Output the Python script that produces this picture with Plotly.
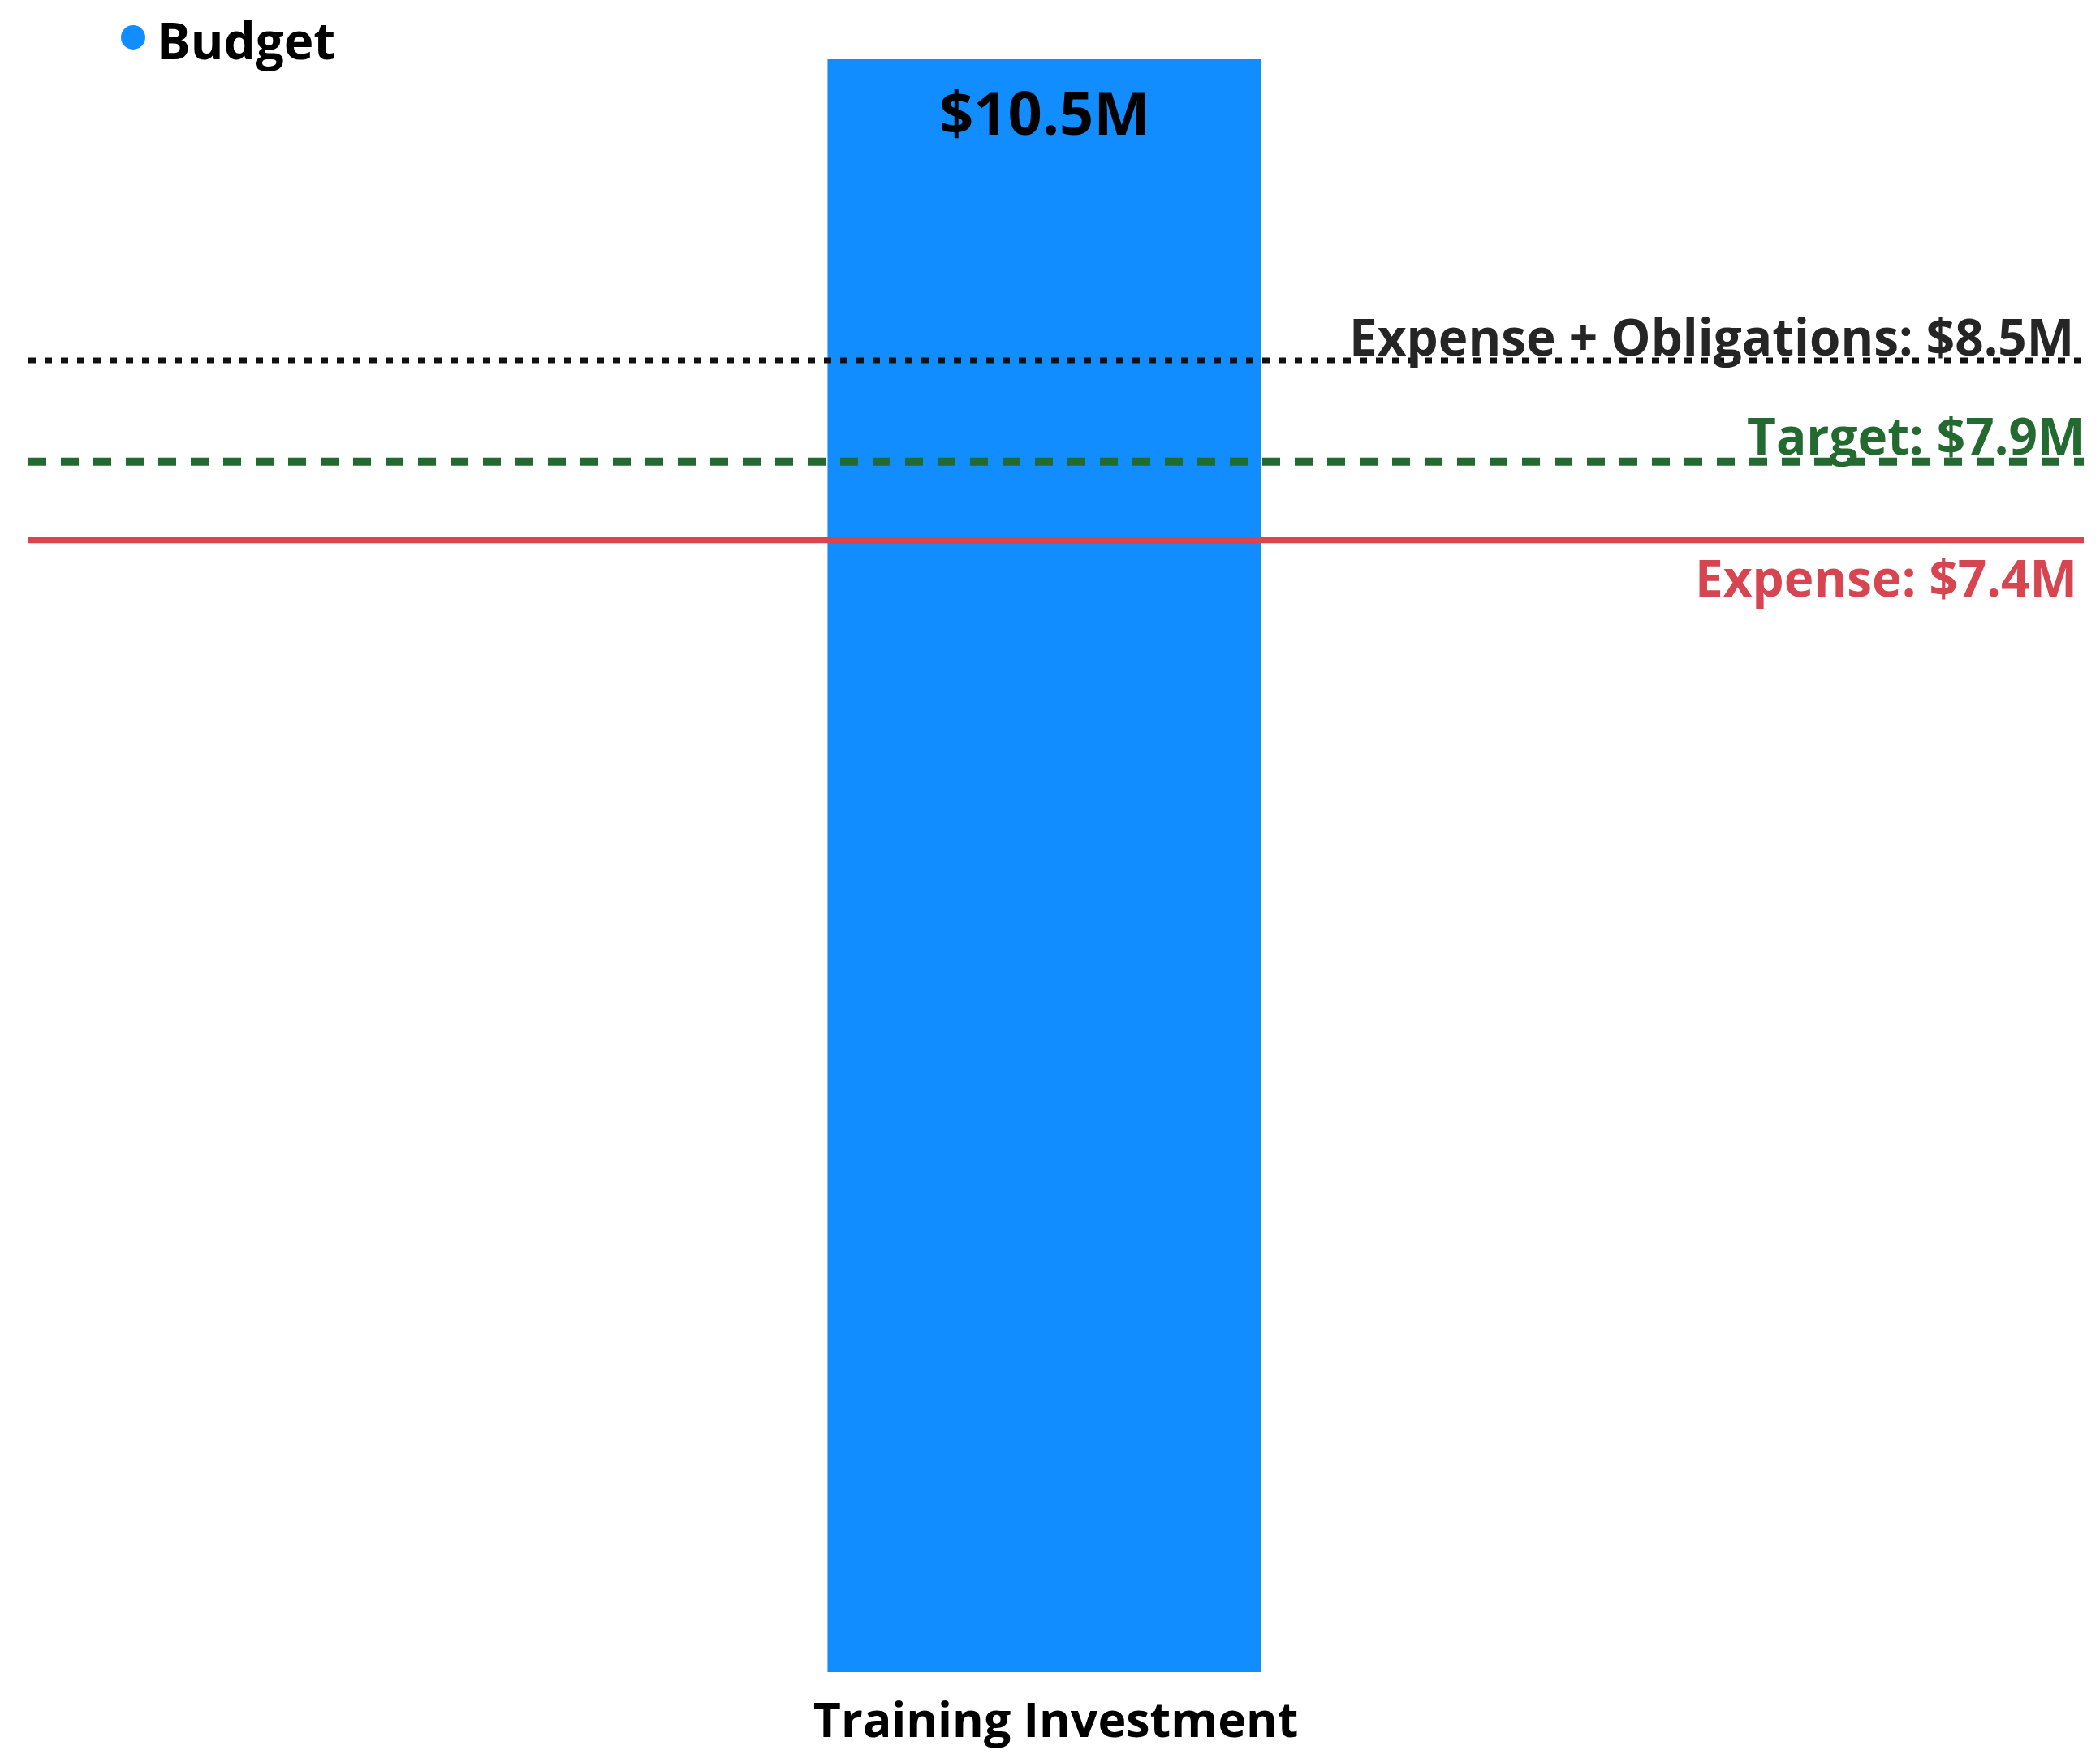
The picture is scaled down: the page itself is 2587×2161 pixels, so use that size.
import plotly.graph_objects as go

# ---- data ----
categories = ["Training Investment"]
budget_values = [10.5]
series_name = "Budget"
ref_names = ["Expense + Obligations", "Target", "Expense"]
ref_values = [8.54, 7.88, 7.37]

# ---- styles ----
FONT = "Open Sans"
BAR_COLOR = "#118DFF"
ref_colors = ["#111111", "#236A30", "#D64550"]
ref_text_colors = ["#252525", "#236A30", "#D64550"]
ref_widths = [7, 10, 8]
ref_dashes = ["9px,11px", "22px,18px", "solid"]
ref_label_yshift = [30, 33, -46]
ref_label_xshift = [-10, 3, -6]

fig = go.Figure()
fig.add_trace(go.Bar(
    x=categories, y=budget_values, name=series_name,
    marker=dict(color=BAR_COLOR, line=dict(width=0)),
    width=0.211, showlegend=False, hoverinfo="skip",
))

for name, val, col, tcol, w, d, ys, xs in zip(ref_names, ref_values, ref_colors,
                                              ref_text_colors, ref_widths, ref_dashes,
                                              ref_label_yshift, ref_label_xshift):
    fig.add_hline(y=val, line=dict(color=col, width=w, dash=d), layer="above")
    fig.add_annotation(
        x=1, xref="paper", y=val, yref="y", xanchor="right", yanchor="middle",
        text=f"<b>{name}: ${val:.1f}M</b>", showarrow=False,
        font=dict(family=FONT, size=62, color=tcol), xshift=xs, yshift=ys,
    )

# value label on the bar
for c, v in zip(categories, budget_values):
    fig.add_annotation(
        x=c, y=v, xref="x", yref="y", yanchor="middle", xanchor="center",
        text=f"<b>${v:.1f}M</b>", showarrow=False, yshift=-64,
        font=dict(family=FONT, size=74, color="#000000"),
    )

# legend (dot + label)
fig.add_shape(type="circle", xref="paper", yref="paper",
              xsizemode="pixel", ysizemode="pixel", xanchor=0, yanchor=1,
              x0=114, x1=144, y0=12, y1=42,
              fillcolor=BAR_COLOR, line=dict(width=0))
fig.add_annotation(
    x=0, y=1, xref="paper", yref="paper", xanchor="left", yanchor="middle",
    text=f"<b>{series_name}</b>", showarrow=False, xshift=156, yshift=24,
    font=dict(family=FONT, size=62, color="#000000"),
)

fig.update_layout(
    width=2587, height=2161,
    margin=dict(l=27, r=28, t=65, b=89),
    paper_bgcolor="white", plot_bgcolor="white",
    showlegend=False,
    font=dict(family=FONT),
    xaxis=dict(type="category", range=[-0.4943, 0.5057], showgrid=False,
               zeroline=False, showline=False, ticks="",
               tickfont=dict(family=FONT, size=59, color="#000000", weight="bold"),
               ticklabelstandoff=20, ticklabelshift=14),
    yaxis=dict(range=[0, 10.5], visible=False, showgrid=False, zeroline=False),
)

fig.write_html("out.html")
